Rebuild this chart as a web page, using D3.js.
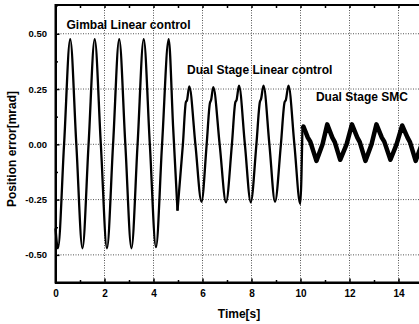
<!DOCTYPE html>
<html>
<head>
<meta charset="utf-8">
<script src="https://cdn.jsdelivr.net/npm/d3@7"></script>
<style>
  body { margin: 0; background: #fff; }
  svg { display: block; font-family: "Liberation Sans", Arial, sans-serif; }
</style>
</head>
<body>
<script>
// Gimbal linear control, 0 - 5 s
const gimbalT = [0, 0.1, 0.35, 0.6, 0.85, 1.1, 1.35, 1.6, 1.85, 2.1, 2.35, 2.6, 2.85, 3.1, 3.35, 3.6, 3.85, 4.1, 4.35, 4.62, 4.8, 4.98];
const gimbalV = [-0.38, -0.47, 0, 0.475, 0, -0.47, 0, 0.475, 0, -0.47, 0, 0.475, 0, -0.47, 0, 0.475, 0, -0.465, 0, 0.475, 0.08, -0.30];

// Dual stage linear control, 5 - 10 s
const dualT = [4.98, 5.2, 5.32, 5.37, 5.46, 5.71, 5.96,
  6.17, 6.3, 6.35, 6.44, 6.7, 6.96,
  7.2, 7.34, 7.39, 7.49, 7.73, 7.97,
  8.2, 8.34, 8.39, 8.49, 8.73, 8.96,
  9.2, 9.35, 9.4, 9.51, 9.75, 9.99, 10.08];
const dualV = [-0.30, 0.0, 0.19, 0.2, 0.262, 0.0, -0.26,
  0.0, 0.185, 0.2, 0.258, 0.0, -0.262,
  0.0, 0.19, 0.2, 0.265, 0.0, -0.262,
  0.0, 0.19, 0.205, 0.265, 0.0, -0.26,
  0.0, 0.19, 0.2, 0.265, 0.0, -0.27, 0.08];

// Dual stage SMC, 10 - 15 s
const smcT = [10.08, 10.12, 10.3, 10.4, 10.65, 10.9, 11.09, 11.3, 11.4, 11.62, 11.88, 12.1, 12.32, 12.42, 12.65, 12.9, 13.1, 13.32, 13.42, 13.67, 13.92, 14.15, 14.37, 14.47, 14.7, 14.95];
const smcV = [0.07, 0.08, 0.03, 0.012, -0.075, 0.0, 0.09, 0.03, 0.01, -0.07, 0.0, 0.09, 0.03, 0.01, -0.075, 0.0, 0.09, 0.03, 0.012, -0.07, 0.0, 0.085, 0.03, 0.01, -0.075, 0.0];

const xTicks = [0, 2, 4, 6, 8, 10, 12, 14];
const xMinor = [1, 3, 5, 7, 9, 11, 13];
const yTicks = [-0.5, -0.25, 0, 0.25, 0.5];
const yMinor = [-0.375, -0.125, 0.125, 0.375];

const labels = [
  { text: 'Gimbal Linear control', t: 0.45, v: 0.523 },
  { text: 'Dual Stage Linear control', t: 5.37, v: 0.319 },
  { text: 'Dual Stage SMC', t: 10.63, v: 0.197 }
];

const W = 419, H = 324;
const mLeft = 55.5, mTop = 5, mBottom = 282.5;

const svg = d3.select('body').append('svg')
  .attr('width', W)
  .attr('height', H);

const x = d3.scaleLinear().domain([0, 15]).range([mLeft, mLeft + 15 * 24.5]);
const y = d3.scaleLinear().domain([-0.625, 0.63]).range([mBottom, mTop]);

// Dotted grid
svg.append('g').selectAll('line')
  .data(xTicks.filter(d => d > 0))
  .join('line')
  .attr('x1', d => x(d)).attr('x2', d => x(d))
  .attr('y1', mTop).attr('y2', mBottom)
  .attr('stroke', '#555').attr('stroke-width', 1)
  .attr('stroke-dasharray', '1,1.5');

svg.append('g').selectAll('line')
  .data(yTicks)
  .join('line')
  .attr('x1', mLeft).attr('x2', W)
  .attr('y1', d => y(d)).attr('y2', d => y(d))
  .attr('stroke', '#555').attr('stroke-width', 1)
  .attr('stroke-dasharray', '1,1.5');

// Curves
const line = (ts, vs, curve) => d3.line()
  .x((d, i) => x(ts[i]))
  .y(d => y(d))
  .curve(curve)(vs);

svg.append('path').attr('d', line(gimbalT, gimbalV, d3.curveMonotoneX))
  .attr('fill', 'none').attr('stroke', '#000').attr('stroke-width', 2.3);
svg.append('path').attr('d', line(dualT, dualV, d3.curveMonotoneX))
  .attr('fill', 'none').attr('stroke', '#000').attr('stroke-width', 2.3);
svg.append('path').attr('d', line(smcT, smcV, d3.curveLinear))
  .attr('fill', 'none').attr('stroke', '#000').attr('stroke-width', 4.5)
  .attr('stroke-linejoin', 'round');

// Axes
const bottomAxis = svg.append('g')
  .attr('transform', `translate(0,${mBottom})`)
  .call(d3.axisBottom(x).tickValues(xTicks).tickSize(-4).tickPadding(7).tickFormat(d3.format('d')));
svg.append('g')
  .attr('transform', `translate(0,${mBottom})`)
  .call(d3.axisBottom(x).tickValues(xMinor).tickSize(-2.5).tickFormat(''));

const topAxis = svg.append('g')
  .attr('transform', `translate(0,${mTop})`)
  .call(d3.axisTop(x).tickValues(xTicks.concat(xMinor)).tickSize(-3).tickFormat(''));

const leftAxis = svg.append('g')
  .attr('transform', `translate(${mLeft},0)`)
  .call(d3.axisLeft(y).tickValues(yTicks).tickSize(-4).tickPadding(8.5).tickFormat(d => d.toFixed(2)));
svg.append('g')
  .attr('transform', `translate(${mLeft},0)`)
  .call(d3.axisLeft(y).tickValues(yMinor).tickSize(-2.5).tickFormat(''));

svg.selectAll('.domain').attr('stroke', '#000').attr('stroke-width', 2);
svg.selectAll('.tick line').attr('stroke', '#000').attr('stroke-width', 1.5);
bottomAxis.selectAll('text').attr('font-size', 10).attr('font-weight', 'bold').attr('fill', '#000');
leftAxis.selectAll('text').attr('font-size', 9.5).attr('font-weight', 'bold').attr('fill', '#000');
bottomAxis.select('.domain').attr('d', `M${mLeft},0H${W}`);
topAxis.select('.domain').attr('d', `M${mLeft},0H${W}`);
leftAxis.select('.domain').attr('d', `M0,${mTop - 1}V${mBottom + 1}`);

// Annotations
svg.append('g').selectAll('text')
  .data(labels)
  .join('text')
  .attr('x', d => x(d.t))
  .attr('y', d => y(d.v))
  .attr('font-size', 12)
  .attr('font-weight', 'bold')
  .text(d => d.text);

// Axis titles
svg.append('text')
  .attr('x', 239).attr('y', 318)
  .attr('text-anchor', 'middle')
  .attr('font-size', 12).attr('font-weight', 'bold')
  .text('Time[s]');

svg.append('text')
  .attr('transform', 'translate(16,149) rotate(-90)')
  .attr('text-anchor', 'middle')
  .attr('font-size', 12).attr('font-weight', 'bold')
  .text('Position error[mrad]');
</script>
</body>
</html>
